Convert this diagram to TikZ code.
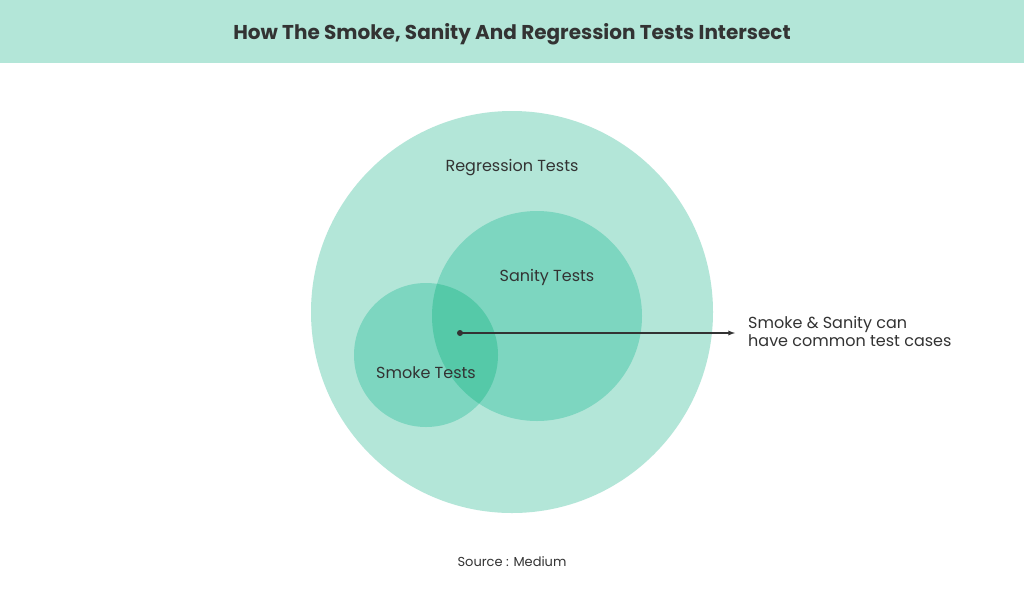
\documentclass[tikz,border=0pt]{standalone}
\usepackage{fontspec}
\setmainfont{Poppins}
\definecolor{light}{HTML}{B3E6D8}
\definecolor{mid}{HTML}{7DD6C0}
\definecolor{deep}{HTML}{55C9A8}
\definecolor{ink}{HTML}{333333}
\begin{document}
\begin{tikzpicture}[x=1pt,y=-1pt,
  lbl/.style={text=ink,font=\fontsize{16}{18}\selectfont,inner sep=0pt}]
\useasboundingbox (0,0) rectangle (1024,600);
\fill[white] (0,0) rectangle (1024,600);
\fill[light] (0,0) rectangle (1024,63);
\node[text=ink,font=\fontsize{20}{24}\selectfont\bfseries] (title) at (512,34) {How The Smoke, Sanity And Regression Tests Intersect};
\fill[light] (512,312) circle (201);
\fill[mid] (537,316) circle (105);
\fill[mid] (426,355) circle (72);
\begin{scope}
\clip (537,316) circle (105);
\fill[deep] (426,355) circle (72);
\end{scope}
\node[lbl] (reg) at (512,168) {Regression Tests};
\node[lbl] (san) at (547,277) {Sanity Tests};
\node[lbl] (smk) at (426,373) {Smoke Tests};
\fill[ink] (460,333) circle (3) coordinate (dot);
\coordinate (tip) at (735,333);
\draw[ink,line width=1.3pt,-latex] (dot) -- (tip);
\node[lbl,anchor=west,align=left] (note) at (748,331) {Smoke \& Sanity can\\have common test cases};
\node[text=ink,font=\fontsize{13}{15}\selectfont,inner sep=0pt] (src) at (512,562) {Source : Medium};
\end{tikzpicture}
\end{document}
